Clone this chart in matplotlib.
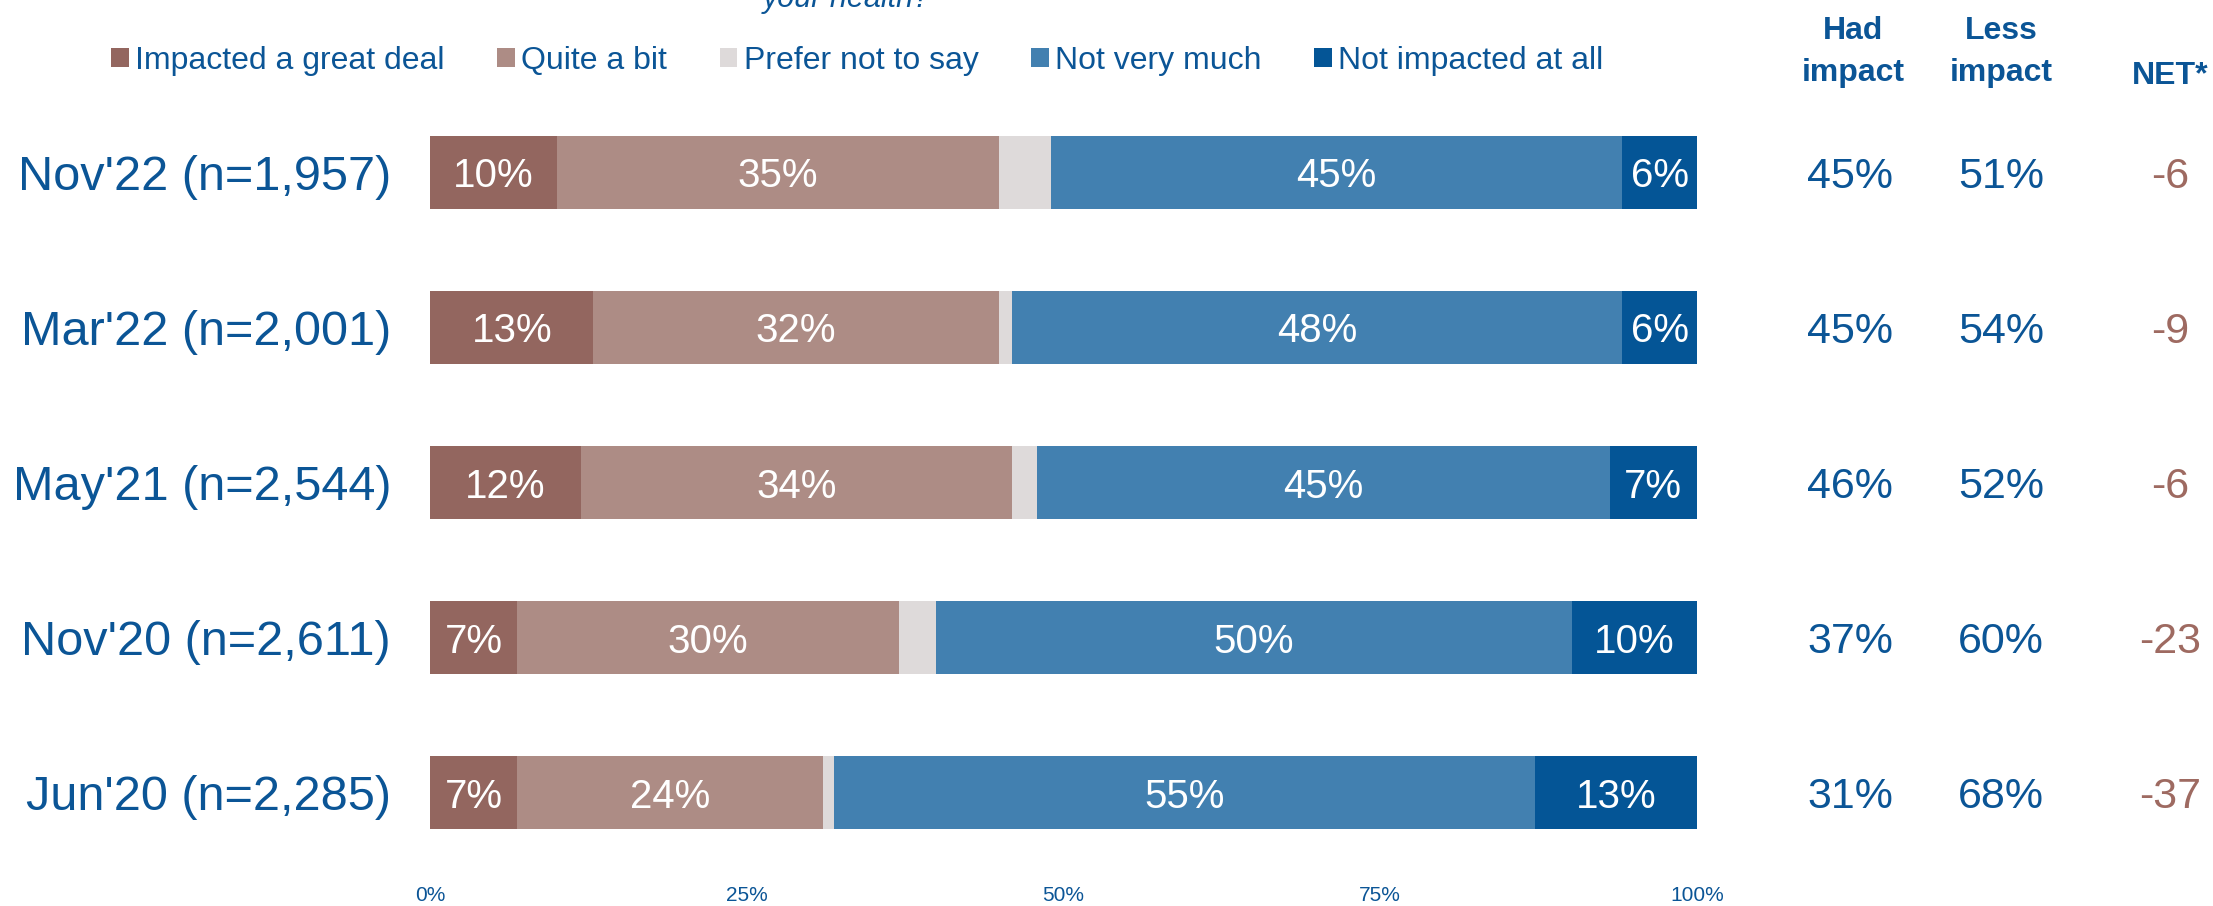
import matplotlib
matplotlib.use("Agg")
import numpy as np
from matplotlib import pyplot as plt
from matplotlib import transforms

plt.rcParams['font.family'] = ['Liberation Sans', 'DejaVu Sans']

waves = ["Nov'22 (n=1,957)", "Mar'22 (n=2,001)", "May'21 (n=2,544)",
         "Nov'20 (n=2,611)", "Jun'20 (n=2,285)"]
great_deal = [10.0, 12.9, 11.9, 6.9, 6.9]
quite_a_bit = [34.9, 32.0, 34.0, 30.1, 24.1]
prefer_not = [4.1, 1.0, 2.0, 2.9, 0.9]
not_very_much = [45.1, 48.2, 45.2, 50.2, 55.3]
not_at_all = [5.9, 5.9, 6.9, 9.9, 12.8]
had_impact = [45, 45, 46, 37, 31]
less_impact = [51, 54, 52, 60, 68]
net = [-6, -9, -6, -23, -37]
x_ticks = [0, 25, 50, 75, 100]

series = [
    ("Impacted a great deal", great_deal, '#93665F', True),
    ("Quite a bit", quite_a_bit, '#AD8C85', True),
    ("Prefer not to say", prefer_not, '#DEDADA', False),
    ("Not very much", not_very_much, '#4280B0', True),
    ("Not impacted at all", not_at_all, '#045596', True),
]
blue = '#0B5596'
brown = '#9E6A61'

W, H = 2213, 906
fig = plt.figure(figsize=(W / 100, H / 100), dpi=100)
ax = fig.add_axes([430 / W, 1 - 870.5 / H, (1697 - 430) / W, (870.5 - 94.5) / H])

y = np.arange(len(waves))
left = np.zeros(len(waves))
for name, vals, col, show in series:
    vals = np.array(vals)
    bars = ax.barh(y, vals, left=left, height=0.47, color=col, label=name)
    if show:
        txts = ax.bar_label(bars, labels=[f"{round(v)}%" for v in vals],
                            label_type='center', color='white', fontsize=29)
        for t in txts:
            t.set_va('center_baseline')
    left += vals

ax.set_xlim(0, 100)
ax.set_ylim(len(waves) - 0.5, -0.5)
ax.set_yticks(y)
ax.set_yticklabels(waves, fontsize=35, color=blue, va='center_baseline')
ax.set_xticks(x_ticks)
ax.set_xticklabels([f"{t}%" for t in x_ticks], fontsize=15, color=blue)
ax.tick_params(axis='y', length=0, pad=28)
ax.tick_params(axis='x', length=0, pad=11)
for s in ax.spines.values():
    s.set_visible(False)

# right hand columns
tr = transforms.blended_transform_factory(fig.transFigure, ax.transData)
for i in range(len(waves)):
    fig.text(1850 / W, y[i], f"{had_impact[i]}%", transform=tr, ha='center',
             va='center_baseline', fontsize=31, color=blue)
    fig.text(2001 / W, y[i], f"{less_impact[i]}%", transform=tr, ha='center',
             va='center_baseline', fontsize=31, color=blue)
    fig.text(2170 / W, y[i], f"{net[i]}", transform=tr, ha='center',
             va='center_baseline', fontsize=31, color=brown)

hy = 1 - 52 / H
fig.text(1853 / W, hy, "Had\nimpact", ha='center', va='center', fontsize=23,
         fontweight='bold', color=blue, linespacing=1.5)
fig.text(2001 / W, hy, "Less\nimpact", ha='center', va='center', fontsize=23,
         fontweight='bold', color=blue, linespacing=1.5)
fig.text(2170 / W, 1 - 72 / H, "NET*", ha='center', va='center_baseline',
         fontsize=23, fontweight='bold', color=blue)

# question text, cut off at the top edge as in the source
fig.text(847 / W, 1 - 7 / H, "your health?", ha='center', va='baseline',
         fontsize=22, style='italic', color=blue)

fig.legend(loc='center left', bbox_to_anchor=(111 / W, 1 - 61 / H), ncol=5,
           frameon=False, fontsize=23, handlelength=0.55, handleheight=0.55,
           handletextpad=0.2, columnspacing=1.65, borderpad=0, borderaxespad=0,
           labelcolor=blue)

fig.savefig("out.png", dpi=100)
